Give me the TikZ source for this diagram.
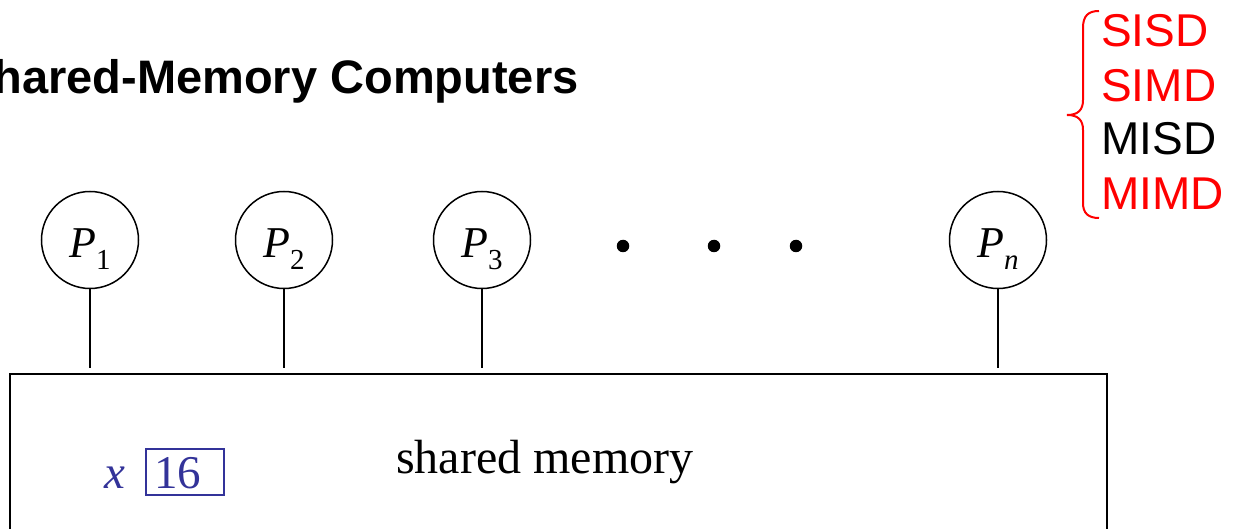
\documentclass[tikz,border=0pt]{standalone}
\usepackage{fontspec}
\setmainfont{Liberation Serif}
\setsansfont{Liberation Sans}
\usetikzlibrary{calc}
\definecolor{memblue}{RGB}{51,51,153}
\definecolor{flynnred}{RGB}{255,0,0}
\newcommand{\procname}[1]{{\itshape P}\raisebox{-12pt}{\fontsize{29}{29}\selectfont #1}}
\begin{document}
\begin{tikzpicture}[x=1pt,y=-1pt,
  proc/.style={circle,draw,line width=1.5pt,minimum size=97pt,inner sep=0pt},
  plabel/.style={anchor=base west,inner sep=0pt,font=\fontsize{44}{44}\selectfont},
  conn/.style={line width=1.5pt,shorten >=5pt},
  dotnode/.style={circle,fill,inner sep=0pt,minimum size=12.5pt},
  membox/.style={draw,line width=2pt,minimum width=1097pt,minimum height=220pt,anchor=north west,inner sep=0pt},
  serif/.style={anchor=base west,inner sep=0pt,font=\fontsize{48}{48}\selectfont},
  valbox/.style={draw=memblue,line width=2.3pt,minimum width=78pt,minimum height=46pt,anchor=north west,inner sep=0pt},
  flynn/.style={anchor=base west,inner sep=0pt,font=\sffamily\fontsize{46}{46}\selectfont},
  title/.style={anchor=base west,inner sep=0pt,font=\sffamily\bfseries\fontsize{47}{47}\selectfont}
]
\useasboundingbox (0,0) rectangle (1242,529);
\clip (0,0) rectangle (1242,529);

% heading
\node[title] (heading) at (-38,94) {Shared-Memory Computers};

% Flynn's taxonomy with brace
\node[flynn,text=flynnred] (sisd) at (1101,47) {SISD};
\node[flynn,text=flynnred] (simd) at (1101,102) {SIMD};
\node[flynn] (misd) at (1101,155) {MISD};
\node[flynn,text=flynnred] (mimd) at (1101,210) {MIMD};
\draw[flynnred,line width=2pt]
  (1099,11) .. controls (1088,11) and (1083,16) .. (1083,28)
  -- (1083,100) .. controls (1083,110) and (1078,115) .. (1067,115)
  .. controls (1078,115) and (1083,120) .. (1083,130)
  -- (1083,203) .. controls (1083,213) and (1088,218) .. (1099,218);

% processors
\node[proc] (p1) at (90,240) {};
\node[proc] (p2) at (284,240) {};
\node[proc] (p3) at (482,240) {};
\node[proc] (pn) at (998,240) {};
\node[plabel] (p1l) at ($(p1.center)+(-21,18)$) {\procname{1}};
\node[plabel] (p2l) at ($(p2.center)+(-21,18)$) {\procname{2}};
\node[plabel] (p3l) at ($(p3.center)+(-21,18)$) {\procname{3}};
\node[plabel] (pnl) at ($(pn.center)+(-21,18)$) {\procname{\itshape n}};

% ellipsis dots
\node[dotnode] (d1) at (623,246) {};
\node[dotnode] (d2) at (714,246) {};
\node[dotnode] (d3) at (796,246) {};

% shared memory
\node[membox] (mem) at (9,373) {};
\node[serif] (memtext) at (396,473) {shared memory};
\node[serif,text=memblue,font=\fontsize{47}{47}\selectfont\itshape] (xvar) at (104,488) {x};
\node[valbox] (xval) at (145,448) {};
\node[serif,text=memblue,font=\fontsize{47}{47}\selectfont] (xnum) at (154,488) {16};

% processor links
\foreach \p in {p1,p2,p3,pn}
  \draw[conn] (\p.south) -- (\p.south |- mem.north);
\end{tikzpicture}
\end{document}
